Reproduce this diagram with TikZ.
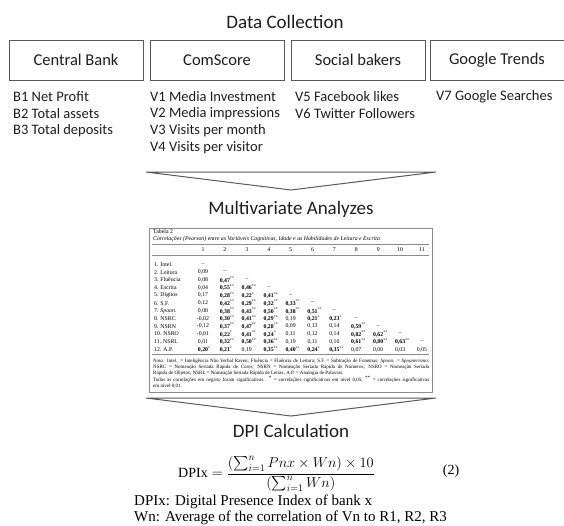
\documentclass[tikz,border=0pt]{standalone}
\usepackage{amsmath}
\usepackage{fontspec}
\setmainfont{Liberation Serif}
\newfontfamily\calibri{Carlito}
\usepackage{tikz}
\usetikzlibrary{positioning}
\usepackage{xcolor}
\definecolor{boxgray}{RGB}{89,89,89}
\definecolor{txtgray}{RGB}{30,30,30}
\definecolor{tabgray}{RGB}{140,140,140}
\tikzstyle{source} = [draw=boxgray, line width=0.8pt, minimum width=134pt, minimum height=40pt, font=\calibri\fontsize{16.5}{19}\selectfont, text=txtgray]
\tikzstyle{item} = [anchor=west, inner sep=0pt, font=\calibri\fontsize{14.5}{17}\selectfont, text=txtgray]
\tikzstyle{stage} = [inner sep=1pt, font=\calibri\fontsize{19}{22}\selectfont, text=txtgray]
\tikzstyle{funnel} = [draw=boxgray, line width=1pt, line join=miter]
\tikzstyle{tabtxt} = [inner sep=0pt, font=\fontsize{5.8}{7}\selectfont]
\tikzstyle{tabnote} = [anchor=west, inner sep=0pt, font=\fontsize{5}{6}\selectfont]
\tikzstyle{tabrule} = [draw=tabgray, line width=0.6pt]
\tikzstyle{legend} = [anchor=west, inner sep=0pt, font=\fontsize{15}{16}\selectfont]
\newcommand{\sigval}[2]{\textbf{#1}\rlap{\textsuperscript{#2}}}

\begin{document}
\begin{tikzpicture}[x=1pt, y=-1pt]
    \useasboundingbox (0,0) rectangle (564,525);

    % sources
    \node[stage] (collect) at (285,22) {Data Collection};
    \node[source] (cbank) at (76,60) {Central Bank};
    \node[source] (comscore) at (217,60) {ComScore};
    \node[source] (socbak) at (358,60) {Social bakers};
    \node[source] (gtrends) at (497,60) {Google Trends};

    \foreach \txt [count=\idx] in {B1 Net Profit, B2 Total assets, B3 Total deposits}
        \node[item] (cb\idx) at (13,80+17*\idx) {\txt};
    \foreach \txt [count=\idx] in {V1 Media Investment, V2 Media impressions, V3 Visits per month, V4 Visits per visitor}
        \node[item] (cs\idx) at (150,80+17*\idx) {\txt};
    \foreach \txt [count=\idx] in {V5 Facebook likes, V6 Twitter Followers}
        \node[item] (sb\idx) at (295,80+17*\idx) {\txt};
    \node[item] (gt1) at (436,97) {V7 Google Searches};

    \draw[funnel] (146,172) -- (436,172) -- (291,190) -- cycle;

    % correlation table
    \node[stage] (multi) at (291,209) {Multivariate Analyzes};
    \node[draw=tabgray, line width=0.8pt, minimum width=283pt, minimum height=164pt] (tabframe) at (291,310) {};
    \node[tabtxt, anchor=west] (tabno) at (153,232) {Tabela 2};
    \node[tabtxt, anchor=west] (tabcap) at (153,239) {\itshape Correlações (Pearson) entre as Variáveis Cognitivas, Idade e as Habilidades de Leitura e Escrita};
    \draw[tabrule] (152,244) -- (429,244);
    \foreach \col in {1,...,11}
        \node[tabtxt] (h\col) at ({203+21.9*(\col-1)},250) {\col};
    \draw[tabrule] (152,255.5) -- (429,255.5);
    \foreach \lab/\vals [count=\row] in {
        1. Intel./{\textendash},
        2. Leitura/{0{,}09,\textendash},
        3. Fluência/{0{,}08,\sigval{0{,}47}{**},\textendash},
        4. Escrita/{0{,}04,\sigval{0{,}55}{**},\sigval{0{,}46}{**},\textendash},
        5. Dígitos/{0{,}17,\sigval{0{,}28}{**},\sigval{0{,}22}{*},\sigval{0{,}41}{**},\textendash},
        6. S.F./{0{,}12,\sigval{0{,}42}{**},\sigval{0{,}29}{**},\sigval{0{,}32}{**},\sigval{0{,}33}{**},\textendash},
        7. \textit{Spoon.}/{0{,}08,\sigval{0{,}38}{**},\sigval{0{,}43}{**},\sigval{0{,}50}{**},\sigval{0{,}38}{**},\sigval{0{,}51}{**},\textendash},
        8. NSRC/{-0{,}02,\sigval{0{,}30}{**},\sigval{0{,}41}{**},\sigval{0{,}29}{**},0{,}19,\sigval{0{,}21}{*},\sigval{0{,}23}{*},\textendash},
        9. NSRN/{-0{,}12,\sigval{0{,}37}{**},\sigval{0{,}47}{**},\sigval{0{,}28}{**},0{,}09,0{,}13,0{,}14,\sigval{0{,}59}{**},\textendash},
        10. NSRO/{-0{,}01,\sigval{0{,}22}{*},\sigval{0{,}41}{**},\sigval{0{,}24}{*},0{,}11,0{,}12,0{,}14,\sigval{0{,}82}{**},\sigval{0{,}62}{**},\textendash},
        11. NSRL/{0{,}01,\sigval{0{,}32}{**},\sigval{0{,}50}{**},\sigval{0{,}36}{**},0{,}19,0{,}11,0{,}10,\sigval{0{,}61}{**},\sigval{0{,}80}{**},\sigval{0{,}63}{**},\textendash},
        12. A.P./{\sigval{0{,}20}{*},\sigval{0{,}21}{*},0{,}19,\sigval{0{,}35}{**},\sigval{0{,}40}{**},\sigval{0{,}24}{*},\sigval{0{,}35}{**},0{,}07,0{,}00,0{,}03,0{,}05}}{
        \node[tabtxt, anchor=west] (lab\row) at ({154},{264.5+7.73*(\row-1)}) {\lab};
        \foreach \val [count=\col] in \vals
            \node[tabtxt] (t\row-\col) at ({203+21.9*(\col-1)},{264.5+7.73*(\row-1)}) {\val};
    }
    \draw[tabrule] (152,354.5) -- (429,354.5);
    \node[tabnote] (note1) at (153,361) {\makebox[276pt][s]{\textit{Nota.} Intel. = Inteligência Não Verbal Raven; Fluência = Fluência de Leitura; S.F. = Subtração de Fonemas; \textit{Spoon.} = \textit{Spoonerismo};}};
    \node[tabnote] (note2) at (153,367) {\makebox[276pt][s]{NSRC = Nomeação Seriada Rápida de Cores; NSRN = Nomeação Seriada Rápida de Números; NSRO = Nomeação Seriada}};
    \node[tabnote] (note3) at (153,373) {Rápida de Objetos; NSRL = Nomeação Seriada Rápida de Letras; A.P. = Analogia de Palavras.};
    \node[tabnote] (note4) at (153,379.5) {\makebox[276pt][s]{Todas as correlações em negrito foram significativas. \textsuperscript{*} = correlações significativas em nível 0,05; \textsuperscript{**} = correlações significativas}};
    \node[tabnote] (note5) at (153,386) {em nível 0,01.};

    \draw[funnel] (146,398) -- (436,398) -- (291,416) -- cycle;

    % index formula
    \node[stage] (dpical) at (291,431) {DPI Calculation};
    \node[anchor=west, inner sep=0pt, font=\fontsize{14}{17}\selectfont] (dpieq) at (178,474)
        {$\text{DPIx} = \dfrac{({\textstyle\sum_{i=1}^{n}}\, Pnx \times Wn)\times 10}{({\textstyle\sum_{i=1}^{n}}\, Wn)}$};
    \node[font=\fontsize{14}{17}\selectfont] (eqno) at (451,471) {(2)};
    \node[legend] (dpidef) at (134,502) {DPIx: Digital Presence Index of bank x};
    \node[legend] (wndef) at (134,518) {Wn: Average of the correlation of Vn to R1, R2, R3};
\end{tikzpicture}
\end{document}
